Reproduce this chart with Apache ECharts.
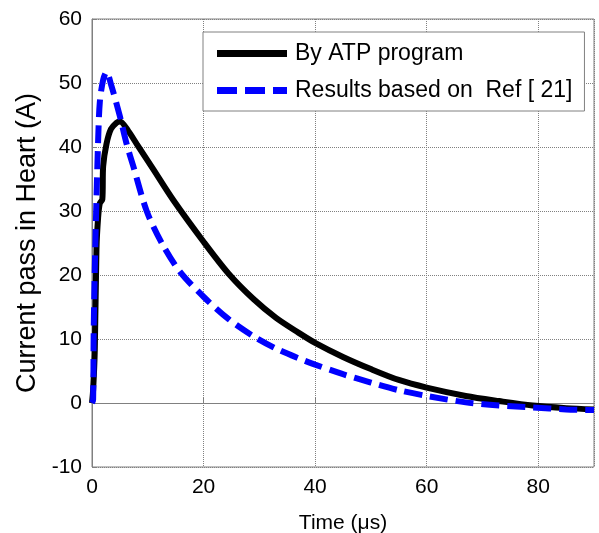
<!DOCTYPE html>
<html>
<head>
<meta charset="utf-8">
<script src="https://cdn.jsdelivr.net/npm/echarts@6/dist/echarts.min.js"></script>
<style>html,body{margin:0;padding:0;background:#fff;}#chart{width:599px;height:533px;}</style>
</head>
<body>
<div id="chart"></div>
<script>
// Data
var atpTime = [0, 0.2, 0.5, 0.8, 1.1, 1.4, 1.85, 2.0, 2.6, 3.4, 4.4, 5.0, 6.5, 8, 11, 14.5, 20, 24.5, 29, 33, 37, 40, 45, 50, 55, 60, 67, 73, 79, 85, 90];
var atpCurrent = [0, 2, 8.3, 24, 29, 31.2, 31.8, 37, 40.5, 42.8, 43.8, 44, 42.5, 40.5, 36.5, 31.8, 25.2, 20.2, 16.2, 13.3, 11.0, 9.4, 7.2, 5.3, 3.6, 2.4, 1.1, 0.3, -0.4, -0.8, -1.0];
var refTime = [0, 0.2, 0.3, 0.5, 0.8, 1.1, 1.4, 2, 2.6, 3.5, 5, 6.2, 7.4, 9.8, 12.5, 15.7, 20, 24.5, 29, 33, 37, 40, 45, 50, 55, 60, 67, 73, 79, 85, 90];
var refCurrent = [0, 0.5, 11, 21, 31.8, 41, 47, 50.5, 51.7, 49.5, 44.8, 40.5, 37, 30, 25, 20.6, 16.6, 13.1, 10.4, 8.5, 7.0, 6.0, 4.5, 3.2, 2.0, 1.1, 0.1, -0.4, -0.7, -1.0, -1.1];
var seriesNames = ['By ATP program', 'Results based on  Ref [ 21]'];
var xAxisTitle = 'Time (\u03bcs)';
var yAxisTitle = 'Current pass in Heart (A)';

function pairs(xs, ys) { return xs.map(function (x, i) { return [x, ys[i]]; }); }

var font = 'Liberation Sans, Arial, sans-serif';
var solidIcon = 'path://M0,0h70v7h-70z';
var dashIcon = 'path://M0,0h20v7h-20zM28,0h20v7h-20zM56,0h14v7h-14z';
var chart = echarts.init(document.getElementById('chart'), null, {renderer: 'canvas'});
chart.setOption({
  animation: false,
  backgroundColor: '#fff',
  grid: {left: 92, right: 5, top: 19, bottom: 66, show: true, borderColor: '#808080', borderWidth: 1, containLabel: false, outerBoundsMode: 'none'},
  legend: {
    show: true,
    orient: 'vertical',
    left: 203, top: 32,
    padding: [10, 12, 9, 14],
    itemGap: 14,
    itemWidth: 70, itemHeight: 14,
    backgroundColor: '#fff',
    borderColor: '#808080', borderWidth: 1,
    textStyle: {fontFamily: font, fontSize: 23, color: '#000', lineHeight: 22, padding: [0, 0, 0, 3]},
    data: [
      {name: seriesNames[0], icon: solidIcon},
      {name: seriesNames[1], icon: dashIcon}
    ]
  },
  xAxis: {
    type: 'value', min: 0, max: 90, interval: 20,
    name: xAxisTitle, nameLocation: 'middle', nameGap: 46,
    nameTextStyle: {fontFamily: font, fontSize: 21, color: '#000'},
    axisLine: {show: true, lineStyle: {color: '#808080'}},
    axisTick: {show: true, inside: true, length: 5, lineStyle: {color: '#808080'}},
    axisLabel: {fontFamily: font, fontSize: 21, color: '#000', margin: 10, showMaxLabel: false},
    splitLine: {show: true, lineStyle: {color: '#808080', type: 'dotted', width: 1}}
  },
  yAxis: {
    type: 'value', min: -10, max: 60, interval: 10,
    name: yAxisTitle, nameLocation: 'middle', nameGap: 50, nameRotate: 90,
    nameTextStyle: {fontFamily: font, fontSize: 27, color: '#000'},
    axisLine: {show: true, lineStyle: {color: '#808080'}},
    axisTick: {show: true, inside: true, length: 5, lineStyle: {color: '#808080'}},
    axisLabel: {fontFamily: font, fontSize: 21, color: '#000', margin: 10},
    splitLine: {show: true, lineStyle: {color: '#808080', type: 'dotted', width: 1}}
  },
  series: [
    {
      name: seriesNames[0], type: 'line', symbol: 'none', smooth: 0.3,
      data: pairs(atpTime, atpCurrent),
      lineStyle: {color: '#000', width: 6},
      itemStyle: {color: '#000'},
      z: 2
    },
    {
      name: seriesNames[1], type: 'line', symbol: 'none', smooth: 0.3,
      data: pairs(refTime, refCurrent),
      lineStyle: {color: '#0000ff', width: 6, type: [18, 8], cap: 'butt'},
      itemStyle: {color: '#0000ff'},
      z: 3
    }
  ]
});
</script>
</body>
</html>
